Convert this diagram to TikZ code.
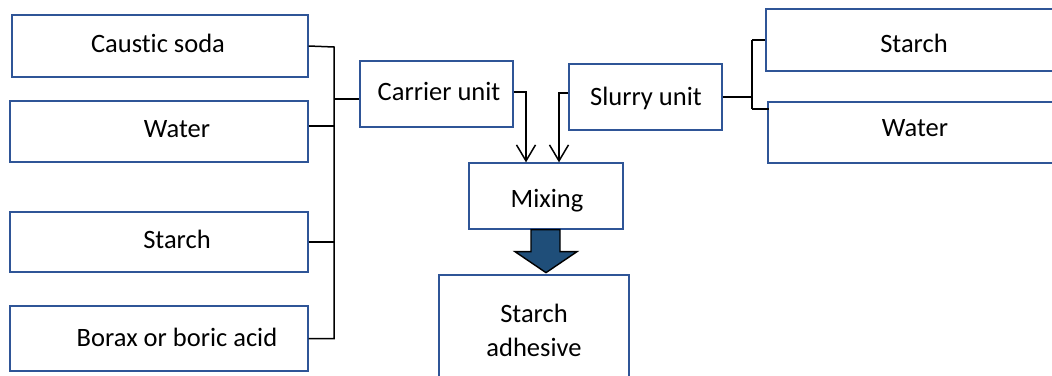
\documentclass[tikz,border=0pt]{standalone}
\usepackage{fontspec}
\setmainfont{Carlito}[Ligatures=NoCommon]
\usetikzlibrary{arrows.meta}
\definecolor{boxblue}{RGB}{47,85,151}
\definecolor{blockfill}{RGB}{31,78,121}
\begin{document}
\begin{tikzpicture}[x=1pt,y=-1pt,
  box/.style={draw=boxblue,line width=1.3pt,fill=white,inner sep=0pt},
  lbl/.style={anchor=base,inner sep=0pt,font=\fontsize{26.5}{34}\selectfont},
  wire/.style={draw=black,line width=1.5pt},
  feed/.style={wire,-{Straight Barb[length=16pt,width=19pt,line width=1.5pt]}}]
\useasboundingbox (0,0) rectangle (1052,375);
\clip (0,0) rectangle (1052,375);

% ingredient boxes of the carrier
\node[box,minimum width=296pt,minimum height=62pt] (caustic) at (160,46) {};
\node[box,minimum width=298pt,minimum height=61pt] (water) at (159,131.5) {};
\node[box,minimum width=298pt,minimum height=60pt] (starch) at (159,242) {};
\node[box,minimum width=298pt,minimum height=65pt] (borax) at (159,338.5) {};
\node[lbl] (causticT) at (158,52) {Caustic soda};
\node[lbl] (waterT) at (177,137) {Water};
\node[lbl] (starchT) at (177,248) {Starch};
\node[lbl] (boraxT) at (177,346) {Borax or boric acid};

% carrier and slurry units
\node[box,minimum width=153pt,minimum height=66pt] (carrier) at (436.5,94) {};
\node[lbl] (carrierT) at (439,100) {Carrier unit};
\node[box,minimum width=153pt,minimum height=66pt] (slurry) at (645.5,97) {};
\node[lbl] (slurryT) at (646,105) {Slurry unit};

% ingredient boxes of the slurry (running off the right edge)
\node[box,minimum width=314pt,minimum height=62pt] (rstarch) at (923,40) {};
\node[box,minimum width=312pt,minimum height=61pt] (rwater) at (924,132.5) {};
\node[lbl] (rstarchT) at (914,52) {Starch};
\node[lbl] (rwaterT) at (915,136) {Water};

% mixing and product
\node[box,minimum width=154pt,minimum height=66pt] (mixing) at (546,196) {};
\node[lbl] (mixingT) at (547,207) {Mixing};
\node[box,minimum width=190pt,minimum height=140pt] (adhesive) at (534,345) {};
\node[lbl] (adhesiveT1) at (534,322) {Starch};
\node[lbl] (adhesiveT2) at (534,356) {adhesive};

% left collecting bus
\coordinate (lbus) at (334,99);
\draw[wire] (caustic.east) -- ([yshift=-1pt]caustic.east -| lbus) -- (borax.east -| lbus) -- (borax.east);
\draw[wire] ([yshift=5.5pt]water.east) -- ([yshift=5.5pt]water.east -| lbus);
\draw[wire] (starch.east) -- (starch.east -| lbus);
\draw[wire] (lbus) -- (lbus -| carrier.west);

% right collecting bus
\coordinate (rbus) at (752,97);
\draw[wire] (slurry.east) -- (rbus);
\draw[wire] (rbus |- rstarch.west) -- (rbus |- 0,109);
\draw[wire] (rbus |- rstarch.west) -- (rstarch.west);
\draw[wire] (rbus |- 0,109) -- (769,109);

% feeds into mixing
\draw[feed] ([yshift=2pt]carrier.east) -| ([xshift=-20pt]mixing.north);
\draw[feed] ([yshift=4pt]slurry.west) -| ([xshift=13pt]mixing.north);

% block arrow to the product
\draw[fill=blockfill,draw=black,line width=1.4pt]
  ([xshift=-15pt]mixing.south) -- ([xshift=14pt]mixing.south)
  -- ++(0,22) -- ++(17,0) -- ([yshift=-43pt]mixing.south)
  -- ++(-31,-21) -- ++(16,0) -- cycle;
\end{tikzpicture}
\end{document}
